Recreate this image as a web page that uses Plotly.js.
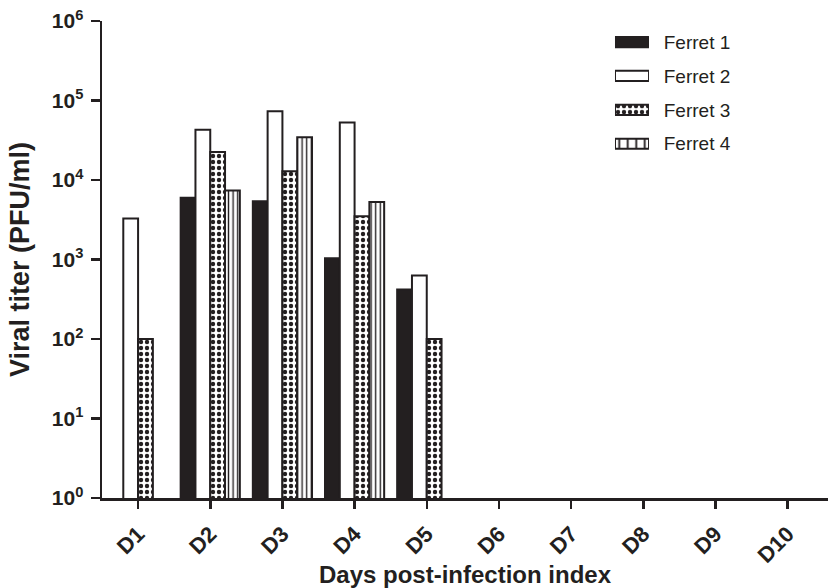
<!DOCTYPE html>
<html>
<head>
<meta charset="utf-8">
<script src="https://cdn.plot.ly/plotly-3.0.1.min.js"></script>
<style>html,body{margin:0;padding:0;background:#fff;}#chart{width:828px;height:588px;}</style>
</head>
<body>
<div id="chart"></div>
<script>
const days = ['D1','D2','D3','D4','D5','D6','D7','D8','D9','D10'];
const seriesNames = ['Ferret 1','Ferret 2','Ferret 3','Ferret 4'];
const ferret1 = [null, 6000, 5400, 1040, 420, null, null, null, null, null];
const ferret2 = [3270, 43000, 73000, 53000, 630, null, null, null, null, null];
const ferret3 = [100, 22500, 12900, 3490, 100, null, null, null, null, null];
const ferret4 = [null, 7400, 34400, 5280, null, null, null, null, null, null];
const yTickVals = [1, 10, 100, 1000, 10000, 100000, 1000000];
const yTickText = ['10<sup>0</sup>','10<sup>1</sup>','10<sup>2</sup>','10<sup>3</sup>','10<sup>4</sup>','10<sup>5</sup>','10<sup>6</sup>'];

const ink = '#231f20';
const font = 'Liberation Sans, Arial, sans-serif';

const styles = [
  {color: ink, pattern: {shape: ''}},
  {color: '#ffffff', pattern: {shape: ''}},
  {color: '#ffffff', pattern: {shape: '.', fgcolor: ink, bgcolor: '#ffffff', size: 6, solidity: 0.42, fillmode: 'replace'}},
  {color: '#ffffff', pattern: {shape: '|', fgcolor: ink, bgcolor: '#ffffff', size: 4.6, solidity: 0.3, fillmode: 'replace'}}
];
const legendPatternSize = [6, 6, 6, 8.5];
const legendPatternSolidity = [0.5, 0.5, 0.42, 0.22];
const allSeries = [ferret1, ferret2, ferret3, ferret4];

const traces = allSeries.map((vals, i) => ({
  type: 'bar', x: days, y: vals, name: seriesNames[i], showlegend: false,
  marker: {color: styles[i].color, pattern: styles[i].pattern, line: {color: ink, width: 2}},
  xaxis: 'x', yaxis: 'y', hoverinfo: 'x+y+name'
}));

// legend drawn as a small horizontal-bar subplot so swatches have the reference's wide shape
seriesNames.forEach((nm, i) => {
  const pat = Object.assign({}, styles[i].pattern);
  if (pat.shape) { pat.size = legendPatternSize[i]; pat.solidity = legendPatternSolidity[i]; }
  traces.push({
    type: 'bar', orientation: 'h', y: [nm], x: [1], width: 0.3, offsetgroup: 'legend',
    xaxis: 'x2', yaxis: 'y2', showlegend: false, hoverinfo: 'skip',
    marker: {color: styles[i].color, pattern: pat, line: {color: ink, width: 2}}
  });
});

const layout = {
  width: 828, height: 588,
  margin: {l: 102, r: 0, t: 21, b: 90},
  paper_bgcolor: '#ffffff', plot_bgcolor: '#ffffff',
  font: {family: font, color: ink},
  barmode: 'group', bargap: 0.18, bargroupgap: 0,
  showlegend: false,
  xaxis: {
    type: 'category', range: [-0.5, 9.56], fixedrange: true,
    showline: true, linecolor: ink, linewidth: 2.5,
    ticks: 'outside', ticklen: 8, tickwidth: 2.5, tickcolor: ink,
    tickangle: -45, ticklabelstandoff: 4, showgrid: false, zeroline: false,
    tickfont: {family: font, size: 22, weight: 'bold', color: ink},
    title: {text: 'Days post-infection index', font: {family: font, size: 24, weight: 'bold', color: ink}, standoff: 2}
  },
  yaxis: {
    type: 'log', range: [0, 6], fixedrange: true,
    showline: true, linecolor: ink, linewidth: 2.5,
    ticks: 'outside', ticklen: 9, tickwidth: 2.5, tickcolor: ink,
    tickvals: yTickVals, ticktext: yTickText, ticklabelstandoff: 3,
    showgrid: false, zeroline: false,
    tickfont: {family: font, size: 21, weight: 'bold', color: ink},
    title: {text: 'Viral titer (PFU/ml)', font: {family: font, size: 27, weight: 'bold', color: ink}, standoff: 15}
  },
  xaxis2: {domain: [0.7066, 0.7534], range: [0, 1], visible: false, fixedrange: true},
  yaxis2: {
    domain: [0.7071, 0.9914], anchor: 'x2', side: 'right', type: 'category',
    autorange: 'reversed', showline: false, showgrid: false, zeroline: false,
    ticks: 'outside', ticklen: 10, tickcolor: 'rgba(0,0,0,0)', fixedrange: true,
    tickfont: {family: font, size: 19, color: ink}
  }
};

Plotly.newPlot('chart', traces, layout, {displayModeBar: false, staticPlot: true});
</script>
</body>
</html>
